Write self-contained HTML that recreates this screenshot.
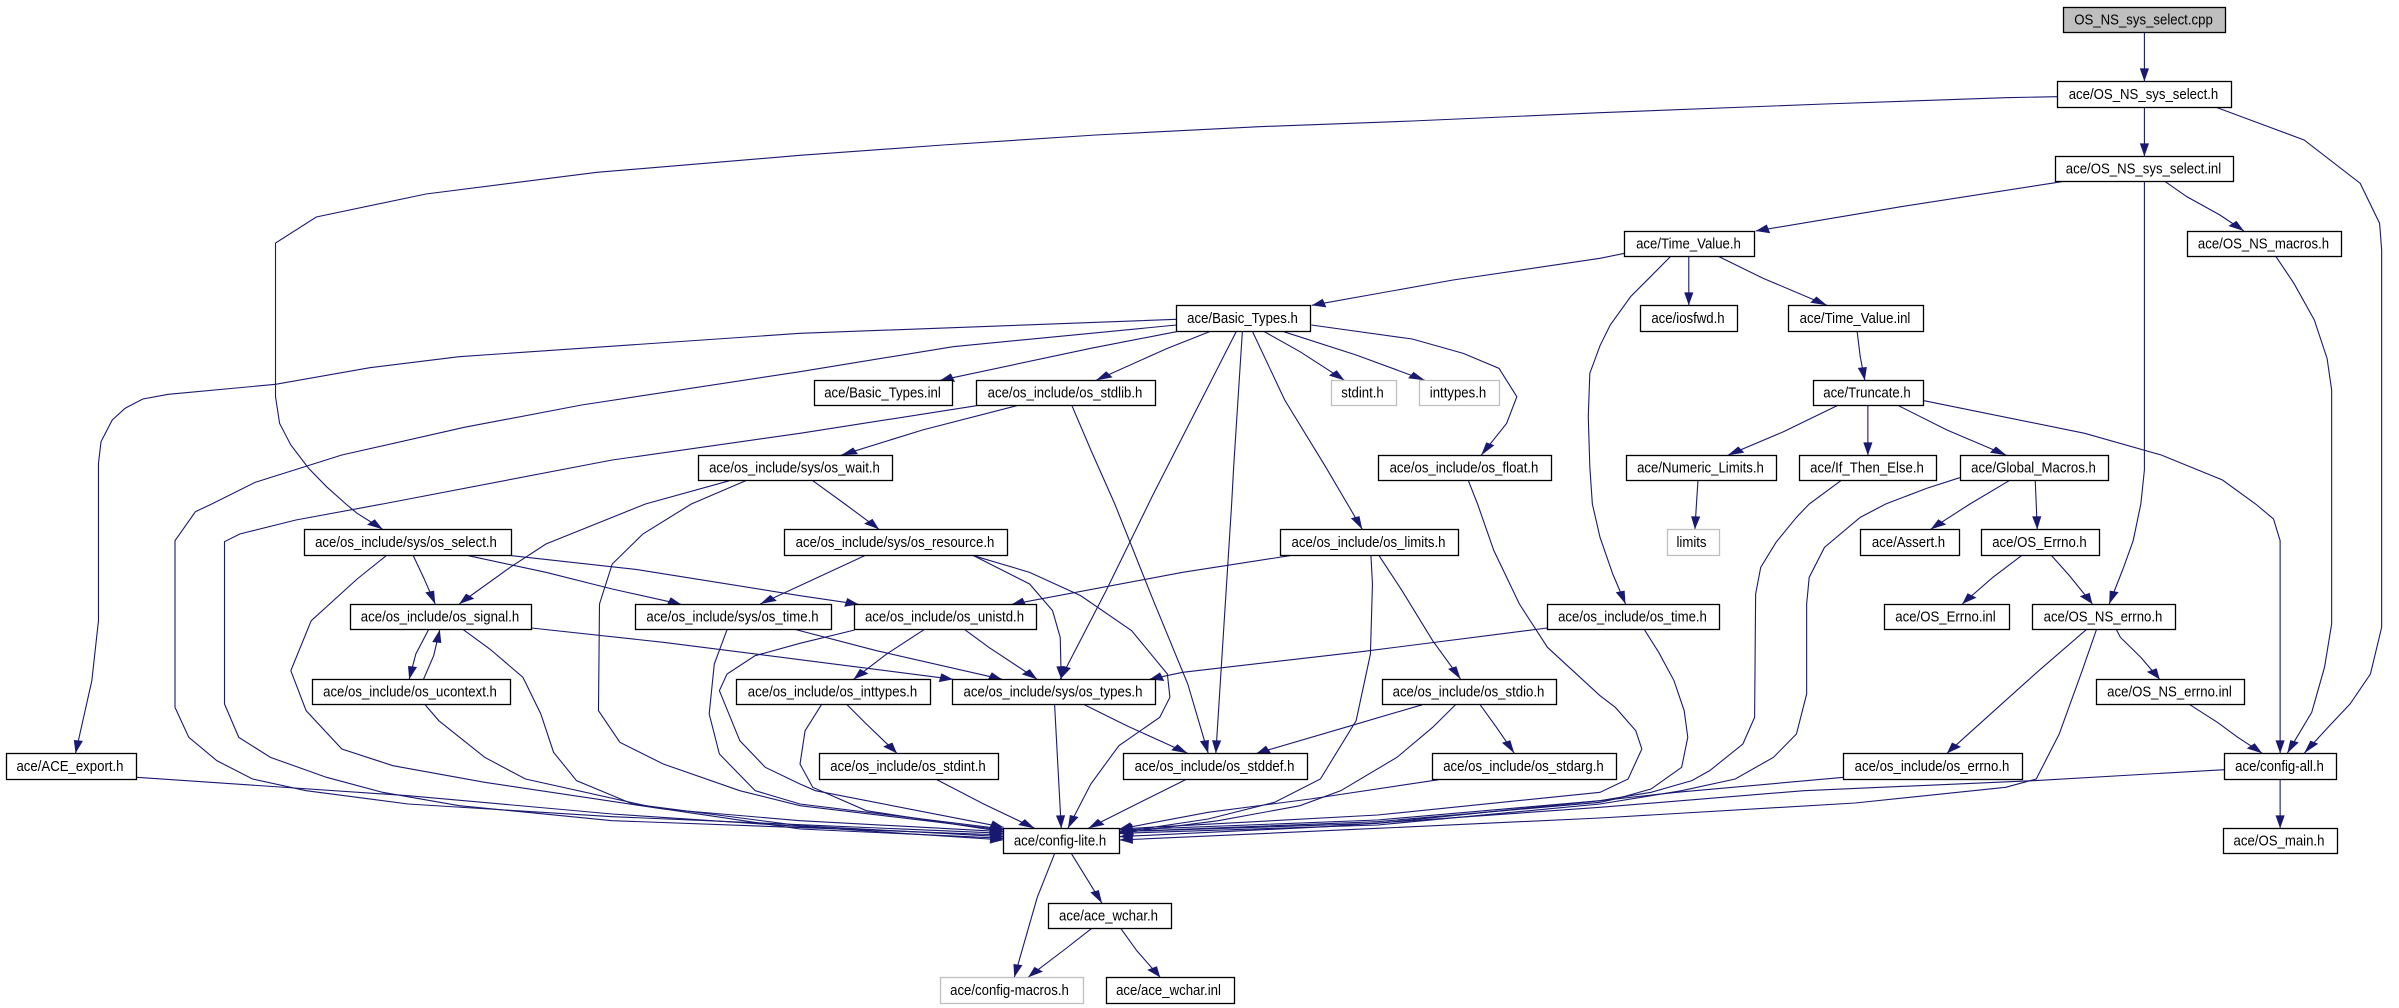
<!DOCTYPE html>
<html><head><meta charset="utf-8"><title>OS_NS_sys_select.cpp</title>
<style>
html,body{margin:0;padding:0;background:#fff;width:2399px;height:1008px;overflow:hidden}
svg{position:absolute;left:0;top:0;display:block}
polyline{fill:none;stroke:#191970;stroke-width:1.1;vector-effect:non-scaling-stroke}
.v{marker-end:url(#v)}.d{marker-end:url(#d)}.h{marker-end:url(#h)}
rect{fill:#fff;stroke:#000;stroke-width:1.3}
rect.g{stroke:#bfbfbf}
rect.r{fill:#bfbfbf}
text{font-family:"Liberation Sans",sans-serif;font-size:14.4px;fill:#000;text-anchor:middle;transform-box:fill-box;transform-origin:center;transform:scaleX(.917)}
</style></head><body>
<svg width="2399" height="1008" viewBox="0 0 4702 3024" preserveAspectRatio="none">
<defs>
<marker id="v" markerUnits="userSpaceOnUse" markerWidth="39" markerHeight="18" refX="39" refY="9" orient="auto" overflow="visible"><path d="M0 0L39 9L0 18z" fill="#191970"/></marker>
<marker id="d" markerUnits="userSpaceOnUse" markerWidth="32" markerHeight="22" refX="32" refY="11" orient="auto" overflow="visible"><path d="M0 0L32 11L0 22z" fill="#191970"/></marker>
<marker id="h" markerUnits="userSpaceOnUse" markerWidth="26" markerHeight="27" refX="26" refY="13.5" orient="auto" overflow="visible"><path d="M0 0L26 13.5L0 27z" fill="#191970"/></marker>
</defs>
<polyline class="v" points="4203,98 4203,244"/>
<polyline class="v" points="4203,322 4203,469"/>
<polyline class="d" points="4032,290 3931,293 3576,312 3136,338 2768,363 2468,380 2148,405 1848,435 1568,466 1170,517 835,582 620,651 540,729 540,1190 548,1270 570,1335 605,1405 640,1460 678,1512 700,1540 750,1588"/>
<polyline class="v" points="4344,322 4516,420 4626,550 4664,670 4668,750 4668,1882 4646,2022 4606,2112 4566,2177 4516,2260"/>
<polyline class="h" points="4041,545 3726,620 3441,693"/>
<polyline class="d" points="4244,545 4286,590 4351,645 4398,693"/>
<polyline class="v" points="4203,545 4203,1410 4196,1512 4181,1622 4161,1707 4134,1812"/>
<polyline class="v" points="4461,770 4496,850 4536,960 4561,1075 4570,1170 4570,1872 4556,2002 4531,2137 4483,2260"/>
<polyline class="h" points="3184,760 3136,775 2848,840 2571,916"/>
<polyline class="v" points="3310,770 3310,916"/>
<polyline class="d" points="3369,770 3456,835 3581,916"/>
<polyline class="v" points="3274,770 3196,890 3156,975 3136,1037 3116,1120 3113,1250 3116,1400 3121,1512 3136,1612 3161,1722 3186,1812"/>
<polyline class="v" points="3640,995 3646,1070 3655,1141"/>
<polyline class="d" points="3601,1217 3496,1295 3386,1366"/>
<polyline class="v" points="3661,1217 3661,1366"/>
<polyline class="d" points="3721,1217 3816,1290 3933,1366"/>
<polyline class="v" points="3771,1202 4086,1300 4236,1365 4356,1440 4421,1512 4456,1557 4469,1622 4469,2260"/>
<polyline class="v" points="3328,1442 3325,1512 3322,1588"/>
<polyline class="h" points="3608,1442 3546,1512 3521,1552 3481,1627 3451,1702 3441,1782 3439,2152 3416,2232 3351,2312 3316,2342 3236,2377 3136,2402 2700,2470 2194,2495"/>
<polyline class="h" points="3841,1433 3776,1465 3696,1512 3646,1552 3576,1642 3546,1732 3541,1812 3541,2082 3521,2202 3476,2272 3401,2337 3296,2372 3136,2412 2700,2475 2194,2500"/>
<polyline class="d" points="3938,1442 3861,1512 3784,1588"/>
<polyline class="v" points="3989,1442 3991,1512 3993,1588"/>
<polyline class="d" points="3962,1667 3906,1732 3846,1812"/>
<polyline class="d" points="4021,1667 4056,1727 4101,1812"/>
<polyline class="d" points="4089,1889 3996,2012 3916,2122 3816,2260"/>
<polyline class="d" points="4148,1889 4156,1912 4196,1972 4233,2038"/>
<polyline class="h" points="4109,1889 4081,2012 4036,2202 3991,2337 3931,2362 3636,2409 3136,2454 2700,2485 2194,2520"/>
<polyline class="d" points="4292,2114 4346,2167 4386,2212 4434,2260"/>
<polyline class="h" points="3614,2332 3286,2377 3136,2402 2700,2460 2194,2490"/>
<polyline class="h" points="4360,2309 3986,2342 3536,2372 3136,2422 2600,2480 2194,2510"/>
<polyline class="v" points="4469,2339 4469,2485"/>
<polyline class="h" points="3223,1889 3251,1957 3281,2042 3301,2132 3308,2212 3296,2302 3236,2367 3166,2397 3136,2407 2700,2465 2194,2495"/>
<polyline class="h" points="3033,1884 2668,1955 2318,2017 2253,2038"/>
<polyline class="h" points="2820,2339 2568,2397 2368,2437 2194,2487"/>
<polyline class="h" points="2853,2114 2808,2182 2738,2272 2628,2372 2548,2417 2388,2462 2194,2500"/>
<polyline class="h" points="2788,2114 2648,2177 2463,2260"/>
<polyline class="v" points="2901,2114 2933,2182 2968,2260"/>
<polyline class="v" points="2703,1667 2748,1772 2808,1922 2863,2038"/>
<polyline class="h" points="2528,1667 2318,1717 1983,1813"/>
<polyline class="h" points="2687,1667 2690,1752 2686,1962 2658,2162 2588,2337 2498,2407 2368,2457 2194,2497"/>
<polyline class="h" points="2878,1442 2896,1512 2928,1652 2978,1812 3033,1942 3136,2087 3166,2122 3206,2192 3218,2247 3191,2337 3136,2377 2700,2445 2194,2487"/>
<polyline class="v" points="2570,975 2768,1017 2868,1060 2938,1105 2973,1190 2953,1270 2903,1366"/>
<polyline class="d" points="2516,995 2658,1065 2793,1141"/>
<polyline class="d" points="2478,995 2548,1055 2635,1141"/>
<polyline class="v" points="2455,995 2518,1200 2598,1400 2641,1512 2670,1588"/>
<polyline class="v" points="2435,995 2418,1400 2414,1512 2383,2260"/>
<polyline class="v" points="2423,995 2358,1190 2258,1490 2251,1512 2168,1772 2078,2038"/>
<polyline class="d" points="2371,995 2288,1045 2148,1141"/>
<polyline class="h" points="2306,995 2138,1045 1843,1141"/>
<polyline class="v" points="2306,958 1568,1000 900,1070 725,1103 540,1153 330,1183 280,1197 245,1225 220,1260 198,1325 193,1390 193,1862 180,2042 148,2260"/>
<polyline class="h" points="2306,975 1868,1040 1568,1115 1140,1215 910,1282 670,1365 500,1447 415,1512 383,1535 343,1622 343,2122 370,2212 425,2282 495,2337 600,2372 800,2412 1200,2450 1967,2500"/>
<polyline class="h" points="1914,1217 1568,1300 1200,1380 750,1512 580,1560 470,1602 440,1625 440,2112 468,2212 530,2272 640,2332 750,2377 900,2417 1200,2462 1967,2505"/>
<polyline class="d" points="1993,1217 1808,1290 1648,1366"/>
<polyline class="v" points="2101,1217 2138,1350 2185,1512 2258,1792 2328,2052 2368,2260"/>
<polyline class="d" points="1593,1442 1656,1512 1723,1588"/>
<polyline class="d" points="1430,1442 1265,1512 1070,1632 1000,1702 900,1812"/>
<polyline class="h" points="1462,1442 1355,1512 1260,1602 1200,1692 1175,1812 1173,2132 1215,2227 1300,2292 1450,2372 1568,2417 1967,2490"/>
<polyline class="d" points="1695,1667 1568,1757 1490,1812"/>
<polyline class="v" points="1908,1667 2018,1752 2063,1832 2078,1912 2080,2038"/>
<polyline class="v" points="1908,1667 2018,1717 2118,1787 2218,1892 2288,2022 2293,2092 2273,2152 2193,2237 2138,2352 2093,2485"/>
<polyline class="v" points="810,1667 830,1732 853,1812"/>
<polyline class="h" points="918,1667 1070,1717 1200,1767 1335,1813"/>
<polyline class="h" points="1003,1667 1250,1709 1568,1787 1683,1813"/>
<polyline class="h" points="757,1667 700,1737 610,1862 570,2012 600,2132 670,2247 770,2297 950,2347 1300,2427 1568,2462 1967,2495"/>
<polyline class="v" points="840,1889 815,1962 802,2038"/>
<polyline class="v" points="830,2038 850,1967 862,1889"/>
<polyline class="h" points="1042,1884 1300,1927 1568,1979 1868,2038"/>
<polyline class="h" points="908,1889 960,1947 1025,2032 1060,2142 1085,2257 1130,2342 1240,2412 1568,2477 1967,2510"/>
<polyline class="h" points="833,2114 860,2162 950,2272 1030,2337 1280,2422 1568,2487 1967,2515"/>
<polyline class="h" points="1555,1887 1718,1952 1964,2038"/>
<polyline class="h" points="1425,1889 1400,1992 1390,2142 1410,2262 1480,2372 1568,2412 1967,2487"/>
<polyline class="d" points="1891,1889 1938,1942 2033,2038"/>
<polyline class="d" points="1811,1889 1738,1962 1673,2038"/>
<polyline class="h" points="1675,1890 1568,1930 1480,1967 1425,2022 1410,2072 1450,2222 1500,2302 1568,2352 1598,2372 1967,2482"/>
<polyline class="d" points="1660,2114 1698,2172 1758,2260"/>
<polyline class="h" points="1610,2114 1578,2192 1568,2292 1593,2362 1698,2432 1967,2495"/>
<polyline class="d" points="2125,2114 2208,2177 2328,2260"/>
<polyline class="v" points="2067,2114 2080,2485"/>
<polyline class="d" points="1836,2339 1928,2412 2028,2485"/>
<polyline class="d" points="2324,2339 2228,2412 2133,2485"/>
<polyline class="h" points="268,2332 800,2387 1200,2442 1967,2520"/>
<polyline class="v" points="2067,2561 2033,2692 1988,2932"/>
<polyline class="v" points="2100,2561 2160,2710"/>
<polyline class="d" points="2139,2786 2088,2847 2015,2932"/>
<polyline class="d" points="2197,2786 2228,2852 2274,2932"/>
</svg>
<svg width="2399" height="1008" viewBox="0 0 2399 1008">
<rect class="r" x="2063.5" y="7.5" width="162" height="25"/><text x="2143.5" y="24.5">OS_NS_sys_select.cpp</text>
<rect x="2057.5" y="81.5" width="174" height="26"/><text x="2143.5" y="99">ace/OS_NS_sys_select.h</text>
<rect x="2055.5" y="156.5" width="178" height="25"/><text x="2143.5" y="173.5">ace/OS_NS_sys_select.inl</text>
<rect x="1624.5" y="231.5" width="130" height="25"/><text x="1688.5" y="248.5">ace/Time_Value.h</text>
<rect x="2187.5" y="231.5" width="154" height="25"/><text x="2263.5" y="248.5">ace/OS_NS_macros.h</text>
<rect x="1640.5" y="305.5" width="97" height="26"/><text x="1688" y="323">ace/iosfwd.h</text>
<rect x="1788.5" y="305.5" width="135" height="26"/><text x="1855" y="323">ace/Time_Value.inl</text>
<rect x="1176.5" y="305.5" width="134" height="26"/><text x="1242.5" y="323">ace/Basic_Types.h</text>
<rect x="814.5" y="380.5" width="138" height="25"/><text x="882.5" y="397.5">ace/Basic_Types.inl</text>
<rect x="976.5" y="380.5" width="179" height="25"/><text x="1065" y="397.5">ace/os_include/os_stdlib.h</text>
<rect class="g" x="1331.5" y="380.5" width="65" height="25"/><text x="1362.5" y="397.5">stdint.h</text>
<rect class="g" x="1419.5" y="380.5" width="80" height="25"/><text x="1458" y="397.5">inttypes.h</text>
<rect x="1813.5" y="380.5" width="110" height="25"/><text x="1867" y="397.5">ace/Truncate.h</text>
<rect x="698.5" y="455.5" width="194" height="25"/><text x="794.5" y="472.5">ace/os_include/sys/os_wait.h</text>
<rect x="1378.5" y="455.5" width="173" height="25"/><text x="1464" y="472.5">ace/os_include/os_float.h</text>
<rect x="1626.5" y="455.5" width="150" height="25"/><text x="1700.5" y="472.5">ace/Numeric_Limits.h</text>
<rect x="1799.5" y="455.5" width="137" height="25"/><text x="1867" y="472.5">ace/If_Then_Else.h</text>
<rect x="1960.5" y="455.5" width="148" height="25"/><text x="2033.5" y="472.5">ace/Global_Macros.h</text>
<rect x="304.5" y="529.5" width="207" height="26"/><text x="406" y="547">ace/os_include/sys/os_select.h</text>
<rect x="784.5" y="529.5" width="223" height="26"/><text x="895" y="547">ace/os_include/sys/os_resource.h</text>
<rect x="1280.5" y="529.5" width="178" height="26"/><text x="1368.5" y="547">ace/os_include/os_limits.h</text>
<rect class="g" x="1667.5" y="529.5" width="52" height="26"/><text x="1691.5" y="547">limits</text>
<rect x="1860.5" y="529.5" width="99" height="26"/><text x="1908.5" y="547">ace/Assert.h</text>
<rect x="1981.5" y="529.5" width="118" height="26"/><text x="2039.5" y="547">ace/OS_Errno.h</text>
<rect x="350.5" y="604.5" width="181" height="25"/><text x="440" y="621.5">ace/os_include/os_signal.h</text>
<rect x="635.5" y="604.5" width="196" height="25"/><text x="732.5" y="621.5">ace/os_include/sys/os_time.h</text>
<rect x="854.5" y="604.5" width="182" height="25"/><text x="944.5" y="621.5">ace/os_include/os_unistd.h</text>
<rect x="1547.5" y="604.5" width="172" height="25"/><text x="1632.5" y="621.5">ace/os_include/os_time.h</text>
<rect x="1884.5" y="604.5" width="125" height="25"/><text x="1945.5" y="621.5">ace/OS_Errno.inl</text>
<rect x="2032.5" y="604.5" width="143" height="25"/><text x="2103" y="621.5">ace/OS_NS_errno.h</text>
<rect x="312.5" y="679.5" width="198" height="25"/><text x="410" y="696.5">ace/os_include/os_ucontext.h</text>
<rect x="736.5" y="679.5" width="194" height="25"/><text x="832.5" y="696.5">ace/os_include/os_inttypes.h</text>
<rect x="952.5" y="679.5" width="203" height="25"/><text x="1053" y="696.5">ace/os_include/sys/os_types.h</text>
<rect x="1382.5" y="679.5" width="174" height="25"/><text x="1468.5" y="696.5">ace/os_include/os_stdio.h</text>
<rect x="2096.5" y="679.5" width="148" height="25"/><text x="2169.5" y="696.5">ace/OS_NS_errno.inl</text>
<rect x="6.5" y="753.5" width="130" height="26"/><text x="70" y="771">ace/ACE_export.h</text>
<rect x="819.5" y="753.5" width="179" height="26"/><text x="908" y="771">ace/os_include/os_stdint.h</text>
<rect x="1123.5" y="753.5" width="184" height="26"/><text x="1214.5" y="771">ace/os_include/os_stddef.h</text>
<rect x="1432.5" y="753.5" width="184" height="26"/><text x="1523.5" y="771">ace/os_include/os_stdarg.h</text>
<rect x="1843.5" y="753.5" width="179" height="26"/><text x="1932" y="771">ace/os_include/os_errno.h</text>
<rect x="2224.5" y="753.5" width="112" height="26"/><text x="2279.5" y="771">ace/config-all.h</text>
<rect x="1003.5" y="828.5" width="116" height="25"/><text x="1060" y="845.5">ace/config-lite.h</text>
<rect x="2223.5" y="828.5" width="114" height="25"/><text x="2279" y="845.5">ace/OS_main.h</text>
<rect x="1048.5" y="903.5" width="123" height="25"/><text x="1108.5" y="920.5">ace/ace_wchar.h</text>
<rect class="g" x="940.5" y="977.5" width="143" height="26"/><text x="1009.5" y="995">ace/config-macros.h</text>
<rect x="1106.5" y="977.5" width="128" height="26"/><text x="1168.5" y="995">ace/ace_wchar.inl</text>
</svg>
</body></html>
